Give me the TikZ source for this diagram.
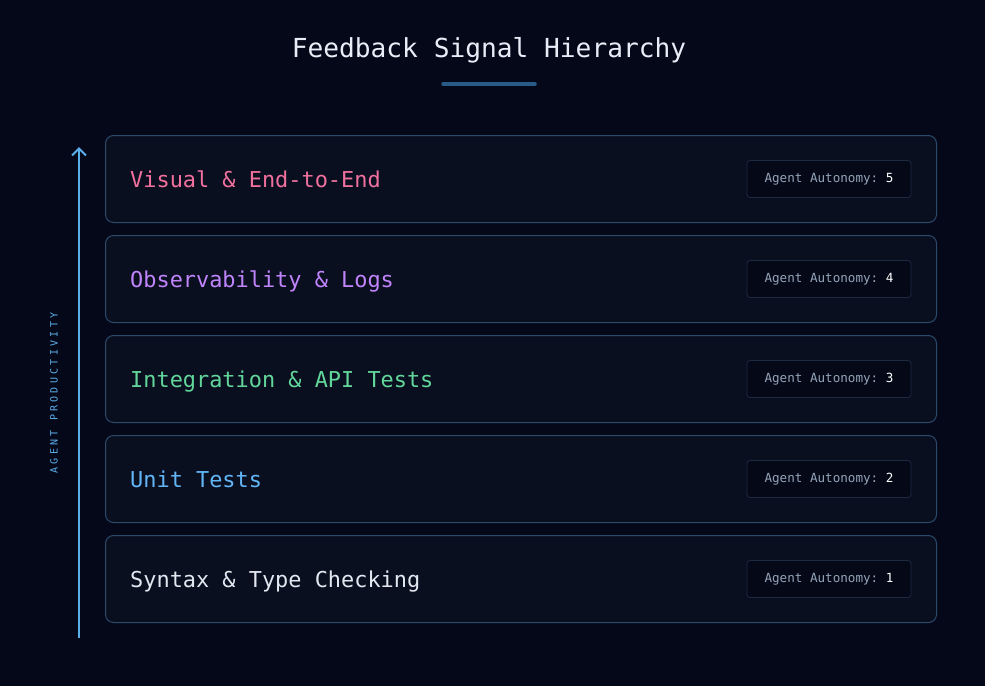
\documentclass[tikz,border=0pt]{standalone}
\usepackage{fontspec}
\setmonofont{DejaVu Sans Mono}
\newfontfamily\spacedmono[LetterSpace=33]{DejaVu Sans Mono}
\usetikzlibrary{arrows.meta}
\usetikzlibrary{positioning}

\definecolor{pagebg}{HTML}{050818}
\definecolor{tierbg}{HTML}{0A0F20}
\definecolor{tierline}{HTML}{2B4A6B}
\definecolor{badgebg}{HTML}{050917}
\definecolor{badgeline}{HTML}{1D2A40}
\definecolor{badgetext}{HTML}{94A3B8}
\definecolor{titletext}{HTML}{E8EEF8}
\definecolor{rulecol}{HTML}{2A5A88}
\definecolor{axiscol}{HTML}{5BB0EC}
\definecolor{visualcol}{HTML}{F0709E}
\definecolor{obscol}{HTML}{C084FC}
\definecolor{integcol}{HTML}{62D69A}
\definecolor{unitcol}{HTML}{62B6F7}
\definecolor{syntaxcol}{HTML}{E2E8F0}

\tikzset{%
    tier/.style={draw=tierline, fill=tierbg, line width=1pt, rounded corners=8pt,
        minimum width=831pt, minimum height=87pt, anchor=north west, inner sep=0pt},
    tierlabel/.style={anchor=base west, inner sep=0pt, font={\ttfamily\fontsize{21.9}{26}\selectfont}},
    badge/.style={draw=badgeline, fill=badgebg, line width=0.8pt, rounded corners=3pt,
        minimum width=164pt, minimum height=37pt, text=badgetext,
        font={\ttfamily\fontsize{12.6}{15}\selectfont}},
}

\begin{document}
\begin{tikzpicture}[x=1pt,y=-1pt]
\useasboundingbox [fill=pagebg] (0,0) rectangle (985,686);
% title
\node (title) [text=titletext, font={\ttfamily\fontsize{26.2}{31}\selectfont}] at (489,50) {Feedback Signal Hierarchy};
\coordinate (rule west) at (443,84);
\coordinate (rule east) at (535,84);
\draw [rulecol, line width=3.5pt, line cap=round] (rule west) -- (rule east);
% tiers, top to bottom
\node (t5) [tier] at (105,135) {};
\node (t4) [tier] at (105,235) {};
\node (t3) [tier] at (105,335) {};
\node (t2) [tier] at (105,435) {};
\node (t1) [tier] at (105,535) {};
\node (l5) [tierlabel, text=visualcol] at (130,187) {Visual \& End-to-End};
\node (l4) [tierlabel, text=obscol] at (130,287) {Observability \& Logs};
\node (l3) [tierlabel, text=integcol] at (130,387) {Integration \& API Tests};
\node (l2) [tierlabel, text=unitcol] at (130,487) {Unit Tests};
\node (l1) [tierlabel, text=syntaxcol] at (130,587) {Syntax \& Type Checking};
\node (b5) [badge] at (829,179) {Agent Autonomy: \textcolor{white}{5}};
\node (b4) [badge] at (829,279) {Agent Autonomy: \textcolor{white}{4}};
\node (b3) [badge] at (829,379) {Agent Autonomy: \textcolor{white}{3}};
\node (b2) [badge] at (829,479) {Agent Autonomy: \textcolor{white}{2}};
\node (b1) [badge] at (829,579) {Agent Autonomy: \textcolor{white}{1}};
% productivity axis
\coordinate (axis bottom) at (79,638);
\coordinate (axis top) at (79,147);
\draw [axiscol, line width=2pt, -{Straight Barb[length=7pt, width=14pt, line width=2pt]}] (axis bottom) -- (axis top);
\node (axislabel) [rotate=90, text=axiscol, font={\spacedmono\fontsize{10}{12}\selectfont}] at (54,393) {AGENT PRODUCTIVITY};
\end{tikzpicture}
\end{document}
